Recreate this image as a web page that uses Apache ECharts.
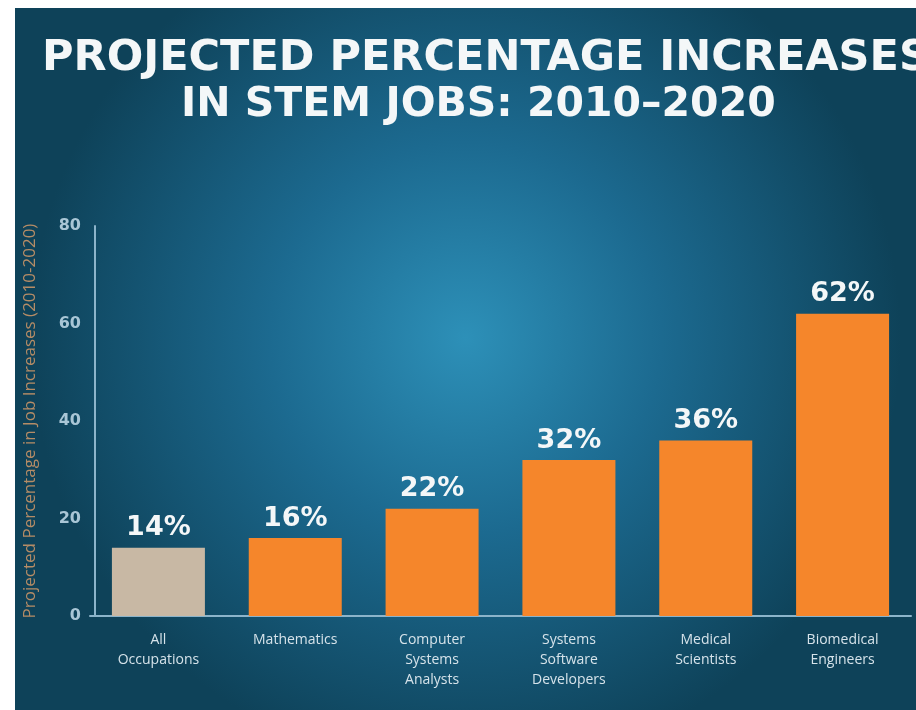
<!DOCTYPE html>
<html>
<head>
<meta charset="utf-8">
<script src="https://cdn.jsdelivr.net/npm/echarts@6/dist/echarts.min.js"></script>
<style>
html,body{margin:0;padding:0;background:#fff;}
#chart{width:916px;height:710px;}
</style>
</head>
<body>
<div id="chart"></div>
<script>
var categories = ["All\nOccupations", "Mathematics", "Computer\nSystems\nAnalysts", "Systems\nSoftware\nDevelopers", "Medical\nScientists", "Biomedical\nEngineers"];
var values = [14, 16, 22, 32, 36, 62];
var barColors = ["#c8b8a4", "#f5862b", "#f5862b", "#f5862b", "#f5862b", "#f5862b"];
var yTicks = [0, 20, 40, 60, 80];
var titleLine1 = "PROJECTED PERCENTAGE INCREASES";
var titleLine2 = "IN STEM JOBS: 2010\u20132020";
var yAxisName = "Projected Percentage in Job Increases (2010-2020)";

var chart = echarts.init(document.getElementById('chart'));
chart.setOption({
  backgroundColor: '#ffffff',
  animation: false,
  graphic: [{
    type: 'rect', z: -10, silent: true,
    shape: {x: 15, y: 8, width: 901, height: 702},
    style: {
      fill: new echarts.graphic.RadialGradient(0.5, 0.47, 0.62, [
        {offset: 0, color: '#2d90b8'},
        {offset: 0.45, color: '#1c6a90'},
        {offset: 1, color: '#0e4259'}
      ])
    }
  }],
  title: [{
    text: titleLine1, left: 37, top: 32,
    textStyle: {color: '#f4f7f8', fontFamily: 'DejaVu Sans', fontWeight: 'bold', fontSize: 43}
  }, {
    text: titleLine2, left: 176, top: 80,
    textStyle: {color: '#f4f7f8', fontFamily: 'DejaVu Sans', fontWeight: 'bold', fontSize: 41}
  }],
  grid: {left: 90, top: 226, width: 821, height: 390, containLabel: false},
  xAxis: {
    type: 'category', data: categories,
    axisLine: {show: true, lineStyle: {color: '#8cb4ca', width: 2}},
    axisTick: {show: false},
    axisLabel: {color: '#d6e3ea', fontFamily: 'Open Sans', fontSize: 14, lineHeight: 20, margin: 14, interval: 0}
  },
  yAxis: {
    type: 'value', min: 0, max: 80, interval: 20, offset: -5,
    name: yAxisName, nameLocation: 'middle', nameGap: 56, nameRotate: 90,
    nameTextStyle: {color: '#b58c66', fontFamily: 'Open Sans', fontSize: 17},
    axisLine: {show: true, lineStyle: {color: '#8cb4ca', width: 2}},
    axisTick: {show: false},
    splitLine: {show: false},
    axisLabel: {color: '#a9c6d6', fontFamily: 'DejaVu Sans', fontWeight: 'bold', fontSize: 16, margin: 14,
      formatter: function (v) { return yTicks.indexOf(v) >= 0 ? String(v) : ''; }}
  },
  series: [{
    type: 'bar', barWidth: 93,
    data: values.map(function (v, i) { return {value: v, itemStyle: {color: barColors[i]}}; }),
    label: {show: true, position: 'top', distance: 6, formatter: '{c}%',
      color: '#f4f7f8', fontFamily: 'DejaVu Sans', fontWeight: 'bold', fontSize: 27}
  }]
});
</script>
</body>
</html>
